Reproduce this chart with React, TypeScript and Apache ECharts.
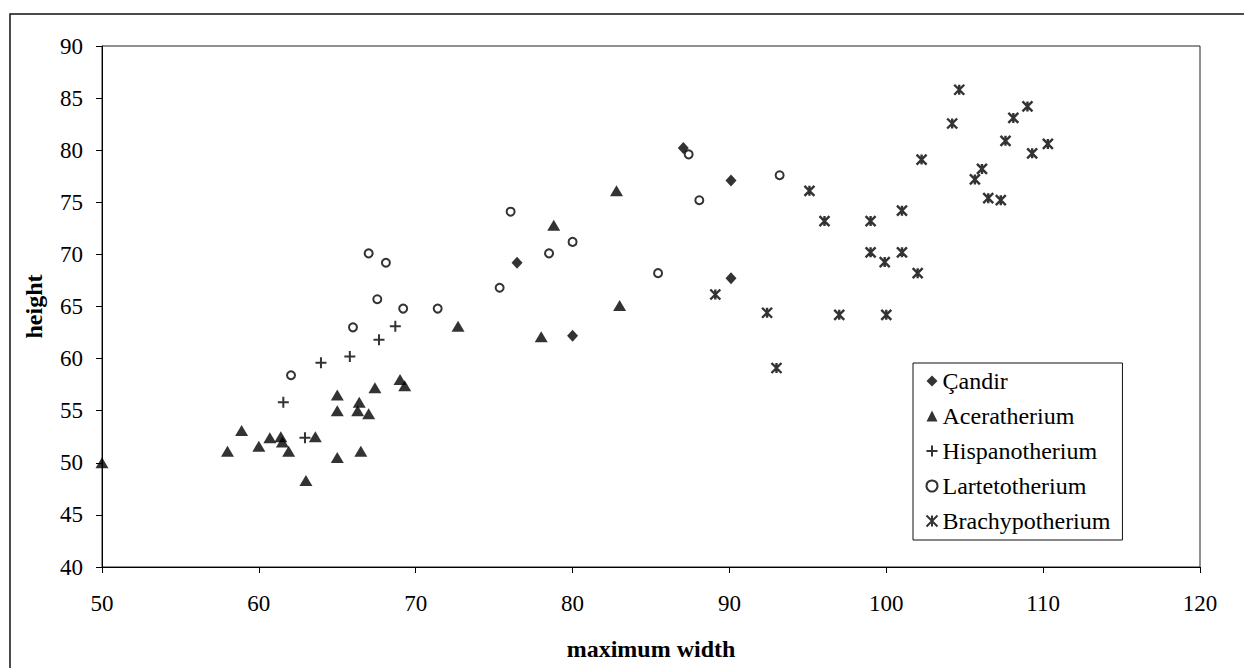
import React, { useEffect, useRef } from "react";
import * as echarts from "echarts";

const xTicks = [50, 60, 70, 80, 90, 100, 110, 120];
const yTicks = [40, 45, 50, 55, 60, 65, 70, 75, 80, 85, 90];

const seriesNames = ["Çandir", "Aceratherium", "Hispanotherium", "Lartetotherium", "Brachypotherium"];

const candir: number[][] = [
  [87.06, 80.2], [90.1, 77.1], [76.46, 69.2], [80.0, 62.2], [90.1, 67.7],
];

const aceratherium: number[][] = [
  [50.0, 50.0], [58.0, 51.1], [58.9, 53.1], [60.0, 51.6], [60.7, 52.4],
  [61.4, 52.5], [61.5, 52.0], [61.9, 51.1], [63.0, 48.3], [63.6, 52.5],
  [65.0, 50.5], [65.0, 55.0], [65.0, 56.5], [66.3, 55.0], [66.4, 55.8],
  [66.5, 51.1], [67.0, 54.7], [67.4, 57.2], [69.0, 58.0], [69.3, 57.4],
  [72.7, 63.1], [78.0, 62.1], [78.8, 72.8], [82.8, 76.1], [83.0, 65.1],
];

const hispanotherium: number[][] = [
  [61.56, 55.8], [62.94, 52.4], [63.96, 59.6], [65.8, 60.2], [67.66, 61.8], [68.7, 63.1],
];

const lartetotherium: number[][] = [
  [62.05, 58.4], [66.0, 63.0], [67.0, 70.1], [67.55, 65.7], [68.1, 69.2],
  [69.2, 64.8], [71.4, 64.8], [75.35, 66.8], [76.05, 74.1], [78.5, 70.1],
  [80.0, 71.2], [85.45, 68.2], [87.4, 79.6], [88.08, 75.2], [93.2, 77.6],
];

const brachypotherium: number[][] = [
  [89.1, 66.15], [92.4, 64.4], [93.0, 59.1], [95.1, 76.1], [96.06, 73.2],
  [97.0, 64.2], [99.0, 73.2], [99.0, 70.2], [99.9, 69.26], [100.0, 64.2],
  [101.0, 74.2], [101.0, 70.2], [102.0, 68.2], [102.25, 79.1], [104.2, 82.56],
  [104.65, 85.8], [105.65, 77.2], [106.1, 78.2], [106.5, 75.4], [107.3, 75.2],
  [107.6, 80.9], [108.1, 83.1], [109.0, 84.2], [109.3, 79.7], [110.3, 80.6],
];

const FONT = "'Liberation Serif', 'Times New Roman', serif";

export default function App() {
  const ref = useRef<HTMLDivElement>(null);
  useEffect(() => {
    if (!ref.current) return;
    const chart = echarts.init(ref.current, null, { renderer: "svg" });
    const black = "#000";
    chart.setOption({
      animation: false,
      backgroundColor: "#fff",
      textStyle: { fontFamily: FONT, color: black },
      grid: {
        left: 102,
        top: 46,
        right: 44,
        bottom: 101,
        show: true,
        borderColor: "#222",
        borderWidth: 1,
        backgroundColor: "transparent",
      },
      graphic: [
        {
          type: "rect",
          shape: { x: 10, y: 14, width: 1260, height: 700 },
          style: { fill: "none", stroke: "#111", lineWidth: 1.5 },
          silent: true,
        },
      ],
      legend: {
        orient: "vertical",
        left: 913,
        top: 363,
        data: seriesNames,
        borderColor: "#111",
        borderWidth: 1,
        padding: [4, 12, 5, 11],
        itemGap: 7,
        itemWidth: 11,
        itemHeight: 11,
        textStyle: { fontFamily: FONT, fontSize: 24, color: black, lineHeight: 28 },
        selectedMode: false,
      },
      xAxis: {
        type: "value",
        min: 50,
        max: 120,
        interval: 10,
        name: "maximum width",
        nameLocation: "middle",
        nameGap: 70,
        nameTextStyle: { fontFamily: FONT, fontSize: 24, fontWeight: "bold", color: black },
        axisLine: { show: true, lineStyle: { color: black, width: 1 } },
        axisTick: { show: true, length: 6, lineStyle: { color: black } },
        axisLabel: {
          fontFamily: FONT,
          fontSize: 23,
          color: black,
          margin: 25,
          formatter: (v: number) => (xTicks.includes(v) ? String(v) : ""),
        },
        splitLine: { show: false },
      },
      yAxis: {
        type: "value",
        min: 40,
        max: 90,
        interval: 5,
        name: "height",
        nameLocation: "middle",
        nameGap: 56,
        nameRotate: 90,
        nameTextStyle: { fontFamily: FONT, fontSize: 24, fontWeight: "bold", color: black },
        axisLine: { show: true, lineStyle: { color: black, width: 1 } },
        axisTick: { show: true, length: 6, lineStyle: { color: black } },
        axisLabel: {
          fontFamily: FONT,
          fontSize: 23,
          color: black,
          margin: 19,
          formatter: (v: number) => (yTicks.includes(v) ? String(v) : ""),
        },
        splitLine: { show: false },
      },
      series: [
        {
          name: seriesNames[0],
          type: "scatter",
          data: candir,
          symbol: "diamond",
          symbolSize: [11, 12],
          itemStyle: { color: black },
        },
        {
          name: seriesNames[1],
          type: "scatter",
          data: aceratherium,
          symbol: "triangle",
          symbolSize: [13, 11],
          itemStyle: { color: black },
        },
        {
          name: seriesNames[2],
          type: "scatter",
          data: hispanotherium,
          symbol: "path://M5,0L5,10M0,5L10,5",
          symbolSize: 11,
          itemStyle: { color: "none", borderColor: black, borderWidth: 2 },
        },
        {
          name: seriesNames[3],
          type: "scatter",
          data: lartetotherium,
          symbol: "circle",
          symbolSize: 8,
          itemStyle: { color: "#fff", borderColor: black, borderWidth: 2 },
        },
        {
          name: seriesNames[4],
          type: "scatter",
          data: brachypotherium,
          symbol: "path://M0,0L10,10M10,0L0,10M5,0L5,10",
          symbolSize: 10,
          itemStyle: { color: "none", borderColor: black, borderWidth: 2.4 },
        },
      ],
    });
    return () => chart.dispose();
  }, []);
  return (
    <div
      ref={ref}
      style={{ position: "fixed", left: 0, top: 0, width: 1244, height: 668, background: "#fff" }}
    />
  );
}
